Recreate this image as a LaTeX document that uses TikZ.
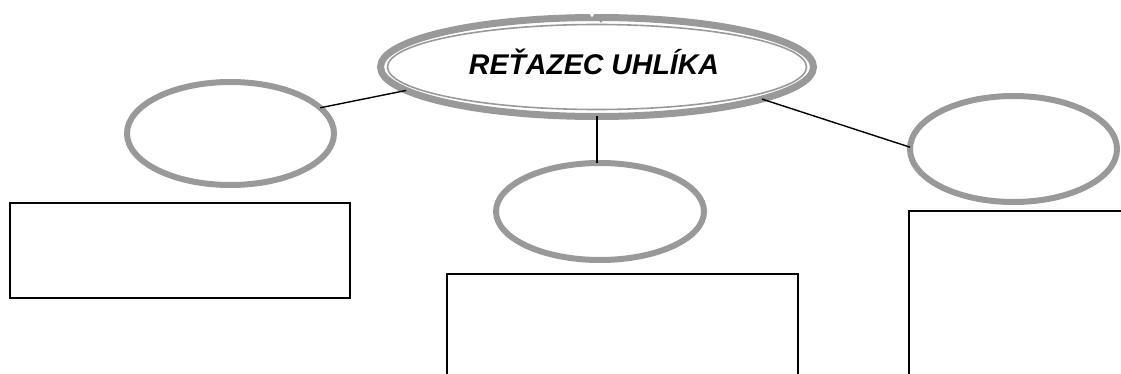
\documentclass[tikz,border=0pt]{standalone}
\usepackage{fontspec}
\setmainfont{Liberation Sans}
\usetikzlibrary{shapes.geometric}
\definecolor{ringgray}{RGB}{153,153,153}
\tikzset{
  ring/.style={ellipse, draw=ringgray, line width=6pt, inner sep=0pt, outer sep=0pt},
  box/.style={draw=black, line width=1.6pt},
  link/.style={draw=black, line width=1.4pt}
}
\begin{document}
\begin{tikzpicture}[x=1pt,y=-1pt]
\useasboundingbox (0,0) rectangle (1121,374);
% main ellipse
\node[ellipse, draw=ringgray, line width=7pt, inner sep=0pt, outer sep=0pt,
      minimum width=433pt, minimum height=99pt] (main) at (597,67) {};
\draw[ringgray, line width=1.6pt] (main.center) ellipse [x radius=209.5pt, y radius=42.5pt];
\fill[white] (587,9) -- (597,9) -- (592,17.5) -- cycle;
\fill[ringgray] (598,19) -- (604,19) -- (601,23) -- cycle;
\node[font=\bfseries\itshape\fontsize{28.5}{30}\selectfont, inner sep=0pt] (title) at (594,62) {REŤAZEC UHLÍKA};
% child ellipses
\node[ring, minimum width=207pt, minimum height=103pt] (left) at (230.5,133.5) {};
\node[ring, minimum width=208pt, minimum height=97pt] (mid) at (600,211.5) {};
\node[ring, minimum width=207pt, minimum height=106pt] (right) at (1013.5,149) {};
% connectors
\draw[link] (left.16) -- (main.187);
\draw[link] (main.south) -- (main.south |- mid.north);
\draw[link] (main.-11.5) -- (right.179.5);
% boxes
\draw[box] (10,203) rectangle (350,298);
\draw[box] (447,376) -- (447,274) -- (798,274) -- (798,376);
\draw[box] (909,376) -- (909,211) -- (1123,211);
\end{tikzpicture}
\end{document}
